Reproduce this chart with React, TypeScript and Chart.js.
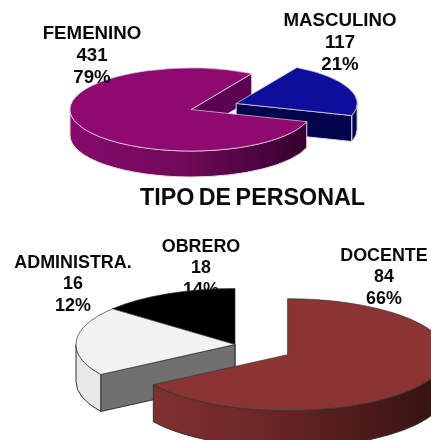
import React, { useEffect, useRef } from "react";
import { Chart, registerables } from "chart.js";

Chart.register(...registerables);

// ---- data ----
const personTitle = "TIPO DE PERSONAL";

const genderNames = ["FEMENINO", "MASCULINO"];
const genderCounts = [431, 117];
const genderPercents = ["79%", "21%"];

const staffNames = ["DOCENTE", "ADMINISTRA.", "OBRERO"];
const staffCounts = [84, 16, 18];
const staffPercents = ["66%", "12%", "14%"];
// slice shares as they are drawn in the picture (they differ from the printed numbers)
const staffSliceShares = [66, 20, 14];

// ---- layout and styles ----
const W = 431;
const H = 440;
const FONT = '"Liberation Sans", Arial, sans-serif';

type Phase = "wall" | "rest" | "all";

interface Look {
  k: number;
  depth: number;
  explode: number[];
  edge: string;
  edgeWidth: number;
  radialWall: string[];
  outerStops: [number, string][][];
  order: [number, Phase][];
  labelsFirst: boolean;
  labels: { lines: string[]; x: number; y: number }[];
  lineGap: number;
  fontSize: number;
  title?: { text: string; x: number; y: number; size: number };
}

function drawLabels(ctx: CanvasRenderingContext2D, look: Look) {
  ctx.save();
  ctx.fillStyle = "#0a0a0a";
  ctx.textAlign = "center";
  ctx.textBaseline = "middle";
  ctx.font = `bold ${look.fontSize}px ${FONT}`;
  for (const l of look.labels) {
    l.lines.forEach((t, i) => ctx.fillText(t, l.x, l.y + i * look.lineGap));
  }
  if (look.title) {
    ctx.font = `bold ${look.title.size}px ${FONT}`;
    (ctx as any).wordSpacing = "-2px";
    ctx.fillText(look.title.text, look.title.x, look.title.y);
    (ctx as any).wordSpacing = "0px";
  }
  ctx.restore();
}

function wallsOf(ctx: CanvasRenderingContext2D, el: any, i: number, look: Look, phase: Phase) {
  const { k, depth } = look;
  const mid = (el.startAngle + el.endAngle) / 2;
  const off = look.explode[i];
  const dx = Math.cos(mid) * off;
  const dy = Math.sin(mid) * off * k;
  const x = el.x + dx;
  const y = el.y + dy;
  const r = el.outerRadius;

  ctx.strokeStyle = look.edge;
  ctx.lineWidth = look.edgeWidth;
  ctx.lineJoin = "round";

  const radial = (a: number) => {
    const px = x + Math.cos(a) * r;
    const py = y + Math.sin(a) * r * k;
    ctx.beginPath();
    ctx.moveTo(x, y);
    ctx.lineTo(px, py);
    ctx.lineTo(px, py + depth);
    ctx.lineTo(x, y + depth);
    ctx.closePath();
    ctx.fillStyle = look.radialWall[i];
    ctx.fill();
    ctx.stroke();
  };

  if (phase === "wall" || phase === "all") {
    if (-Math.cos(el.startAngle) > 0.001) radial(el.startAngle);
    if (Math.cos(el.endAngle) > 0.001) radial(el.endAngle);
  }

  if (phase === "rest" || phase === "all") {
    for (const base of [0, Math.PI * 2]) {
      const a0 = Math.max(el.startAngle, base);
      const a1 = Math.min(el.endAngle, base + Math.PI);
      if (a1 <= a0) continue;
      const g = ctx.createLinearGradient(x - r, 0, x + r, 0);
      for (const [s, c] of look.outerStops[i]) g.addColorStop(s, c);
      ctx.beginPath();
      ctx.moveTo(x + Math.cos(a0) * r, y + Math.sin(a0) * r * k);
      ctx.ellipse(x, y, r, r * k, 0, a0, a1, false);
      ctx.ellipse(x, y + depth, r, r * k, 0, a1, a0, true);
      ctx.closePath();
      ctx.fillStyle = g;
      ctx.fill();
      ctx.stroke();
    }
    ctx.save();
    ctx.translate(dx, el.y + dy);
    ctx.scale(1, k);
    ctx.translate(0, -el.y);
    el.draw(ctx);
    ctx.restore();
  }
}

function tiltPlugin(look: Look) {
  return {
    id: "tilt",
    beforeDatasetsDraw(chart: any) {
      const ctx = chart.ctx as CanvasRenderingContext2D;
      const arcs = chart.getDatasetMeta(0).data;
      if (look.labelsFirst) drawLabels(ctx, look);
      for (const [i, phase] of look.order) wallsOf(ctx, arcs[i], i, look, phase);
      if (!look.labelsFirst) drawLabels(ctx, look);
      return false;
    },
  };
}

function makeChart(
  canvas: HTMLCanvasElement,
  data: number[],
  colors: string[],
  radius: number,
  rotation: number,
  padding: any,
  borderColor: string,
  look: Look
) {
  return new Chart(canvas, {
    type: "pie",
    data: {
      labels: look.labels.map((l) => l.lines[0]),
      datasets: [
        {
          data,
          backgroundColor: colors,
          borderColor,
          borderWidth: look.edgeWidth,
        },
      ],
    },
    options: {
      animation: false,
      responsive: false,
      devicePixelRatio: 1,
      events: [],
      rotation,
      radius,
      layout: { padding },
      plugins: { legend: { display: false }, tooltip: { enabled: false }, title: { display: false } },
    } as any,
    plugins: [tiltPlugin(look)],
  });
}

const genderLook: Look = {
  k: 0.343,
  depth: 26,
  explode: [0, 48.5],
  edge: "#e9d9e6",
  edgeWidth: 1,
  radialWall: ["#5c0052", "#04044c"],
  outerStops: [
    [
      [0, "#870a6c"],
      [0.45, "#720a5c"],
      [1, "#33002b"],
    ],
    [
      [0, "#04044c"],
      [1, "#04044c"],
    ],
  ],
  order: [
    [0, "wall"],
    [1, "all"],
    [0, "rest"],
  ],
  labelsFirst: false,
  labels: [
    { lines: [genderNames[0], String(genderCounts[0]), genderPercents[0]], x: 92, y: 33.5 },
    { lines: [genderNames[1], String(genderCounts[1]), genderPercents[1]], x: 340, y: 21 },
  ],
  lineGap: 22,
  fontSize: 18.7,
  title: { text: personTitle, x: 252.5, y: 199, size: 23.3 },
};

const staffLook: Look = {
  k: 0.352,
  depth: 37,
  explode: [60, 0, 0],
  edge: "#2c352c",
  edgeWidth: 1,
  radialWall: ["#4a1515", "#707070", "#000000"],
  outerStops: [
    [
      [0, "#853131"],
      [0.4, "#6e2828"],
      [1, "#341010"],
    ],
    [
      [0, "#e8e8e8"],
      [1, "#e8e8e8"],
    ],
    [
      [0, "#000000"],
      [1, "#000000"],
    ],
  ],
  order: [
    [2, "all"],
    [1, "all"],
    [0, "all"],
  ],
  labelsFirst: true,
  labels: [
    { lines: [staffNames[0], String(staffCounts[0]), staffPercents[0]], x: 384, y: 256 },
    { lines: [staffNames[1], String(staffCounts[1]), staffPercents[1]], x: 73, y: 263 },
    { lines: [staffNames[2], String(staffCounts[2]), staffPercents[2]], x: 201, y: 247 },
  ],
  lineGap: 21.5,
  fontSize: 17.9,
};

export default function App() {
  const topRef = useRef<HTMLCanvasElement>(null);
  const bottomRef = useRef<HTMLCanvasElement>(null);

  useEffect(() => {
    const top = makeChart(
      topRef.current!,
      genderCounts,
      ["#8e0a70", "#0e0e9c"],
      121,
      107,
      { left: 0, right: W - 382, top: 0, bottom: H - 219 },
      genderLook.edge,
      genderLook
    );
    const bottom = makeChart(
      bottomRef.current!,
      staffSliceShares,
      ["#8b3434", "#f2f2f2", "#000000"],
      159,
      0,
      { left: 39, right: 0, top: 249, bottom: 0 },
      staffLook.edge,
      staffLook
    );
    return () => {
      top.destroy();
      bottom.destroy();
    };
  }, []);

  const canvasStyle: React.CSSProperties = { position: "absolute", left: 0, top: 0, display: "block", filter: "blur(0.35px)" };
  return (
    <div style={{ position: "absolute", left: 0, top: 0, width: W, height: H, overflow: "hidden", background: "#fff" }}>
      <canvas ref={topRef} width={W} height={H} style={canvasStyle} />
      <canvas ref={bottomRef} width={W} height={H} style={canvasStyle} />
    </div>
  );
}
